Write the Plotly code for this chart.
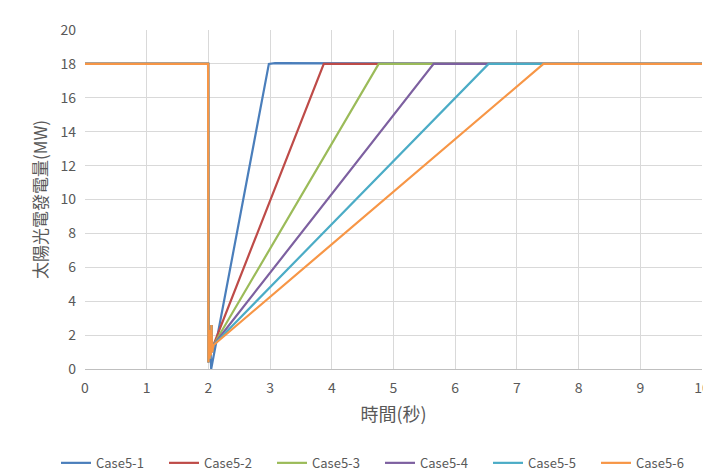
import plotly.graph_objects as go

cases = ["Case5-1", "Case5-2", "Case5-3", "Case5-4", "Case5-5", "Case5-6"]
colors = ["#4A7EBB", "#BE4B48", "#9BBB59", "#7D60A0", "#4BACC6", "#F79646"]
ramp_end = [2.98, 3.87, 4.76, 5.65, 6.54, 7.43]

# common transient around the fault (time, MW)
t_pre = [0.0, 1.995]
p_pre = [18.0, 18.0]
t_dip = [2.0, 2.01, 2.02, 2.03, 2.04, 2.05, 2.06, 2.08]
p_dip = [0.4, 2.0, 0.6, 2.3, 0.8, 2.6, 1.0, 1.4]
t_dip_blue = [2.0, 2.01, 2.02, 2.03, 2.045]
p_dip_blue = [0.4, 2.0, 0.6, 1.5, 0.0]
t_post = [10.0]
p_post = [18.0]

fig = go.Figure()
for i, (name, col, te) in enumerate(zip(cases, colors, ramp_end)):
    if i == 0:
        t = t_pre + t_dip_blue + [te, te + 0.1, 10.0]
        p = p_pre + p_dip_blue + [18.0, 18.05, 18.0]
    else:
        t = t_pre + t_dip + [te] + t_post
        p = p_pre + p_dip + [18.0] + p_post
    fig.add_trace(go.Scatter(x=t, y=p, mode="lines", name=name,
                             line=dict(color=col, width=2.2)))

font_family = "Noto Sans CJK TC, Noto Sans, sans-serif"
fig.update_layout(
    width=703, height=465,
    margin=dict(l=77, r=9, t=22, b=104, autoexpand=False),
    paper_bgcolor="white", plot_bgcolor="white",
    font=dict(family=font_family, color="#595959", size=13),
    showlegend=True,
    legend=dict(orientation="h", x=-0.047, xanchor="left",
                y=-0.277, yanchor="middle",
                font=dict(size=13, color="#595959"), traceorder="normal",
                entrywidth=63, entrywidthmode="pixels", itemwidth=30, tracegroupgap=0),
)
fig.update_xaxes(range=[0, 10], dtick=1, tick0=0, showgrid=True, gridcolor="#D9D9D9",
                 gridwidth=1, zeroline=False, showline=True, linecolor="#BFBFBF",
                 ticks="", tickfont=dict(size=14), automargin=False, ticklabelstandoff=6,
                 ticklabeloverflow="allow",
                 title=dict(text="時間(秒)", font=dict(size=18), standoff=12))
fig.update_yaxes(range=[0, 20], dtick=2, tick0=0, showgrid=True, gridcolor="#D9D9D9",
                 gridwidth=1, zeroline=False, showline=False,
                 ticks="", tickfont=dict(size=14), automargin=False, ticklabelstandoff=8,
                 title=dict(text="太陽光電發電量(MW)", font=dict(size=17), standoff=8))

fig.write_html("out.html")
